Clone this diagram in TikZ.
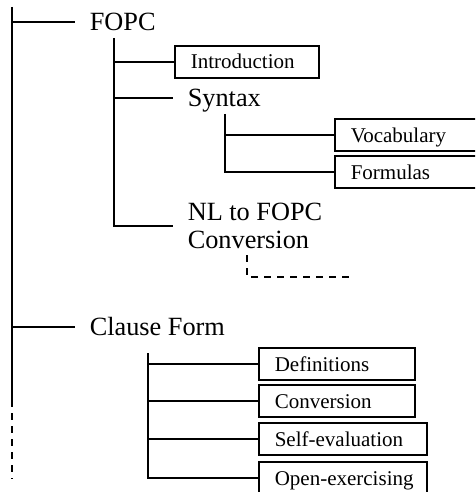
\documentclass[tikz,border=0pt]{standalone}
\usepackage{fontspec}
\setmainfont{Liberation Serif}
\begin{document}
\begin{tikzpicture}[x=1pt,y=-1pt,line width=1.6pt,
  big/.style={font=\fontsize{26.3}{29}\selectfont,anchor=west,inner xsep=14pt,inner ysep=0pt,text height=17.6pt,text depth=0pt},
  bigml/.style={font=\fontsize{26.3}{28.5}\selectfont,anchor=west,inner xsep=14pt,inner ysep=0pt,align=left},
  box/.style={draw,font=\fontsize{21}{22}\selectfont,anchor=west,inner xsep=16pt,inner ysep=0pt,minimum height=32pt,text height=14pt,text depth=0pt,text width=#1,align=left},
  dashline/.style={dash pattern=on 7pt off 6pt}]
\useasboundingbox (0,0) rectangle (475,492);
\clip (0,0) rectangle (475,492);
% trunk
\coordinate (t0) at (12,7);
\coordinate (t1) at (12,400);
\coordinate (t2) at (12,479);
\draw (t0) -- (t1);
\draw[dashline] (t1) -- (t2);
\node[big] (fopc) at (75,22) {FOPC};
\node[big] (cf) at (75,327) {Clause Form};
\draw (t0 |- fopc.west) -- (fopc.west);
\draw (t0 |- cf.west) -- (cf.west);
% FOPC children
\coordinate (fv) at (114,38);
\node[box=112pt] (intro) at (174,62) {Introduction};
\node[big] (syn) at (173,98) {Syntax};
\node[bigml] (nl) at (173,226) {NL to FOPC\\Conversion};
\draw (fv) |- (nl.west);
\draw (fv |- intro.west) -- (intro.west);
\draw (fv |- syn.west) -- (syn.west);
% Syntax children
\coordinate (sv) at (225,114);
\node[box=140pt] (voc) at (334,135) {Vocabulary};
\node[box=140pt] (form) at (334,172) {Formulas};
\draw (sv) |- (form.west);
\draw (sv |- voc.west) -- (voc.west);
% NL dashed continuation
\coordinate (d1) at (247,255);
\coordinate (d2) at (352,277);
\draw[dashline] (d1) |- (d2);
% Clause Form children
\coordinate (cv) at (148,353);
\node[box=124pt] (def) at (258,364) {Definitions};
\node[box=124pt] (conv) at (258,401) {Conversion};
\node[box=136pt] (self) at (258,439) {\mbox{Self-evaluation}};
\node[box=136pt] (open) at (258,478) {\mbox{Open-exercising}};
\draw (cv) |- (open.west);
\draw (cv |- def.west) -- (def.west);
\draw (cv |- conv.west) -- (conv.west);
\draw (cv |- self.west) -- (self.west);
\end{tikzpicture}
\end{document}
